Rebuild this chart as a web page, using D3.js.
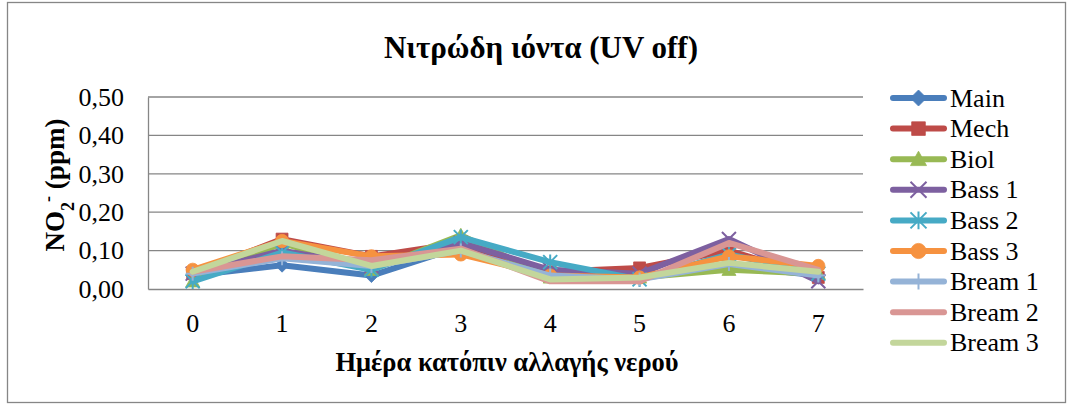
<!DOCTYPE html>
<html>
<head>
<meta charset="utf-8">
<script src="https://cdn.jsdelivr.net/npm/d3@7"></script>
<style>
  body { margin: 0; background: #fff; }
  svg { display: block; }
</style>
</head>
<body>
<svg id="chart" width="1073" height="406"></svg>
<script>
// Day after water change (category axis)
const days = ["0", "1", "2", "3", "4", "5", "6", "7"];
// Value axis ticks (ppm)
const yTicks = [0, 0.1, 0.2, 0.3, 0.4, 0.5];

// Nitrite concentration per tank, ppm
const seriesNames = ["Main", "Mech", "Biol", "Bass 1", "Bass 2", "Bass 3", "Bream 1", "Bream 2", "Bream 3"];
const mainVals   = [0.035, 0.062, 0.035, 0.110, 0.040, 0.030, 0.060, 0.035];
const mechVals   = [0.040, 0.130, 0.085, 0.120, 0.045, 0.055, 0.100, 0.030];
const biolVals   = [0.020, 0.120, 0.050, 0.140, 0.030, 0.030, 0.050, 0.040];
const bass1Vals  = [0.040, 0.100, 0.060, 0.120, 0.050, 0.040, 0.130, 0.020];
const bass2Vals  = [0.020, 0.095, 0.050, 0.135, 0.070, 0.025, 0.090, 0.040];
const bass3Vals  = [0.050, 0.125, 0.085, 0.090, 0.035, 0.030, 0.085, 0.060];
const bream1Vals = [0.040, 0.080, 0.060, 0.100, 0.035, 0.025, 0.065, 0.035];
const bream2Vals = [0.045, 0.085, 0.075, 0.105, 0.020, 0.020, 0.120, 0.050];
const bream3Vals = [0.045, 0.125, 0.060, 0.100, 0.025, 0.030, 0.068, 0.045];

const seriesValues = [mainVals, mechVals, biolVals, bass1Vals, bass2Vals, bass3Vals, bream1Vals, bream2Vals, bream3Vals];
const seriesColors = ["#4A7EBB", "#BE4B48", "#98B954", "#7D60A0", "#46AAC5", "#F69240", "#95B3D7", "#D99694", "#C3D69B"];
const seriesMarkers = ["diamond", "square", "triangle", "cross", "asterisk", "circle", "plus", "none", "none"];

const SERIF = "'Liberation Serif', 'Times New Roman', Tinos, 'DejaVu Serif', serif";

const svg = d3.select("#chart");

// Chart area frame
svg.append("rect")
  .attr("x", 7.5).attr("y", 2.5)
  .attr("width", 1058).attr("height", 400)
  .attr("fill", "#fff").attr("stroke", "#868686").attr("stroke-width", 1.3);

// Plot area
const plot = { left: 148, right: 863, top: 97, bottom: 289 };

const x = d3.scaleBand().domain(days).range([plot.left, plot.right]).paddingInner(0).paddingOuter(0);
const y = d3.scaleLinear().domain([0, 0.5]).range([plot.bottom, plot.top]);
const cx = d => x(d) + x.bandwidth() / 2;

// Horizontal gridlines
svg.append("g")
  .selectAll("line")
  .data(yTicks.filter(t => t > 0))
  .join("line")
  .attr("x1", plot.left).attr("x2", plot.right)
  .attr("y1", d => y(d)).attr("y2", d => y(d))
  .attr("stroke", "#868686").attr("stroke-width", 1.3);

// Y axis
const fmt = d => d3.format(".2f")(d).replace(".", ",");
const yAxis = svg.append("g")
  .attr("transform", `translate(${plot.left},0)`)
  .call(d3.axisLeft(y).tickValues(yTicks).tickFormat(fmt).tickSize(0).tickPadding(24));
yAxis.attr("font-family", SERIF).attr("font-size", 26);
yAxis.select(".domain").attr("stroke", "#868686").attr("stroke-width", 1.3);
yAxis.selectAll("text").attr("fill", "#000");

// X axis
const xAxis = svg.append("g")
  .attr("transform", `translate(0,${plot.bottom})`)
  .call(d3.axisBottom(x).tickSize(0).tickPadding(25));
xAxis.attr("font-family", SERIF).attr("font-size", 26);
xAxis.select(".domain").attr("stroke", "#868686").attr("stroke-width", 1.3);
xAxis.selectAll("text").attr("fill", "#000");

// Title
svg.append("text")
  .attr("x", 541).attr("y", 58)
  .attr("text-anchor", "middle")
  .attr("font-family", SERIF).attr("font-size", 31).attr("font-weight", "bold")
  .text("Νιτρώδη ιόντα (UV off)");

// X axis title
svg.append("text")
  .attr("x", 507).attr("y", 371)
  .attr("text-anchor", "middle")
  .attr("font-family", SERIF).attr("font-size", 26.5).attr("font-weight", "bold")
  .text("Ημέρα κατόπιν αλλαγής νερού");

// Y axis title with sub/superscript
const yt = svg.append("text")
  .attr("transform", "translate(64,185) rotate(-90)")
  .attr("text-anchor", "middle")
  .attr("font-family", SERIF).attr("font-size", 27).attr("font-weight", "bold");
yt.append("tspan").text("NO");
yt.append("tspan").attr("baseline-shift", "sub").attr("font-size", 18).text("2");
yt.append("tspan").attr("baseline-shift", "super").attr("font-size", 18).text("-");
yt.append("tspan").text(" (ppm)");

// Marker shapes
function markerPath(type, s) {
  switch (type) {
    case "diamond": return `M0,${-s}L${s},0L0,${s}L${-s},0Z`;
    case "square": return `M${-s * 0.85},${-s * 0.85}H${s * 0.85}V${s * 0.85}H${-s * 0.85}Z`;
    case "triangle": return `M0,${-s}L${s},${s * 0.8}H${-s}Z`;
    case "circle": return d3.arc()({ innerRadius: 0, outerRadius: s * 0.95, startAngle: 0, endAngle: 2 * Math.PI });
    case "cross": return `M${-s},${-s}L${s},${s}M${s},${-s}L${-s},${s}`;
    case "asterisk": return `M${-s},${-s}L${s},${s}M${s},${-s}L${-s},${s}M0,${-s * 1.1}V${s * 1.1}`;
    case "plus": return `M0,${-s}V${s}M${-s},0H${s}`;
    default: return null;
  }
}
const strokeOnly = t => t === "cross" || t === "asterisk" || t === "plus";

function drawMarker(g, type, color, px, py, s) {
  const p = markerPath(type, s);
  if (!p) return;
  g.append("path")
    .attr("d", p)
    .attr("transform", `translate(${px},${py})`)
    .attr("fill", strokeOnly(type) ? "none" : color)
    .attr("stroke", color)
    .attr("stroke-width", strokeOnly(type) ? 2 : 0.8);
}

// Series lines and markers
const line = d3.line().x((d, i) => cx(days[i])).y(d => y(d));
seriesValues.forEach((vals, k) => {
  const g = svg.append("g");
  g.append("path")
    .attr("d", line(vals))
    .attr("fill", "none")
    .attr("stroke", seriesColors[k])
    .attr("stroke-width", 6)
    .attr("stroke-linejoin", "round")
    .attr("stroke-linecap", "round");
  vals.forEach((v, i) => drawMarker(g, seriesMarkers[k], seriesColors[k], cx(days[i]), y(v), 7));
});

// Legend
const legend = svg.append("g");
seriesNames.forEach((name, k) => {
  const ly = 98 + k * 30.6;
  const g = legend.append("g");
  g.append("line")
    .attr("x1", 893).attr("x2", 944)
    .attr("y1", ly).attr("y2", ly)
    .attr("stroke", seriesColors[k]).attr("stroke-width", 6)
    .attr("stroke-linecap", "round");
  drawMarker(g, seriesMarkers[k], seriesColors[k], 918.5, ly, 8);
  g.append("text")
    .attr("x", 950).attr("y", ly)
    .attr("dy", "0.33em")
    .attr("font-family", SERIF).attr("font-size", 26)
    .text(name);
});
</script>
</body>
</html>
